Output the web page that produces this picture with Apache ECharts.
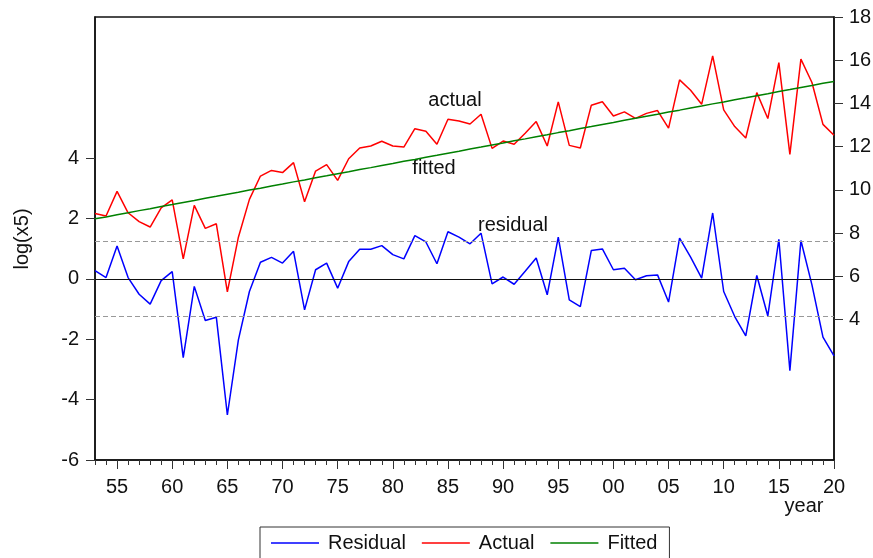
<!DOCTYPE html>
<html>
<head>
<meta charset="utf-8">
<script src="https://cdn.jsdelivr.net/npm/echarts@6/dist/echarts.min.js"></script>
<style>
html,body{margin:0;padding:0;background:#fff;}
#chart{width:873px;height:558px;}
</style>
</head>
<body>
<div id="chart"></div>
<script>
const years = [1953,1954,1955,1956,1957,1958,1959,1960,1961,1962,1963,1964,1965,1966,1967,1968,1969,1970,1971,1972,1973,1974,1975,1976,1977,1978,1979,1980,1981,1982,1983,1984,1985,1986,1987,1988,1989,1990,1991,1992,1993,1994,1995,1996,1997,1998,1999,2000,2001,2002,2003,2004,2005,2006,2007,2008,2009,2010,2011,2012,2013,2014,2015,2016,2017,2018,2019,2020];
const residual = [0.27,0.04,1.09,0.04,-0.51,-0.84,-0.06,0.24,-2.61,-0.25,-1.38,-1.27,-4.51,-2.02,
  -0.42,0.55,0.71,0.52,0.91,-1.03,0.30,0.52,-0.31,0.57,0.98,0.98,1.10,
  0.80,0.66,1.43,1.22,0.50,1.56,1.38,1.16,1.51,-0.17,0.06,-0.18,0.25,0.69,
  -0.53,1.38,-0.70,-0.92,0.94,0.99,0.30,0.35,-0.03,0.10,0.13,-0.77,1.35,
  0.72,0.02,2.18,-0.42,-1.25,-1.89,0.11,-1.23,1.31,-3.04,1.27,-0.20,-1.93,-2.55];
const actual = [8.91,8.79,9.93,8.94,8.53,8.28,9.17,9.54,6.81,9.28,8.22,8.43,5.28,7.81,
  9.56,10.64,10.90,10.80,11.26,9.45,10.87,11.17,10.44,11.44,11.94,12.03,12.25,
  12.03,11.98,12.83,12.71,12.11,13.27,13.19,13.05,13.50,11.92,12.26,12.11,12.62,13.16,
  12.03,14.07,12.06,11.94,13.92,14.08,13.42,13.61,13.31,13.54,13.67,12.86,15.09,
  14.61,13.96,16.20,13.70,12.93,12.40,14.50,13.30,15.89,11.64,16.05,14.97,13.03,12.53];
const fitted = [8.66,8.75,8.85,8.94,9.04,9.13,9.23,9.32,9.42,9.51,9.61,9.70,9.80,9.89,
  9.99,10.08,10.18,10.27,10.37,10.46,10.56,10.65,10.75,10.84,10.94,11.03,11.13,
  11.22,11.32,11.41,11.51,11.60,11.70,11.79,11.89,11.98,12.08,12.17,12.27,12.36,12.46,
  12.55,12.65,12.74,12.84,12.93,13.03,13.12,13.22,13.31,13.41,13.50,13.60,13.69,
  13.79,13.88,13.98,14.07,14.17,14.26,14.36,14.45,14.55,14.64,14.74,14.83,14.93,15.02];
const xMajorTicks = [1955,1960,1965,1970,1975,1980,1985,1990,1995,2000,2005,2010,2015,2020];
const leftTicks = [-6,-4,-2,0,2,4];
const rightTicks = [4,6,8,10,12,14,16,18];
const seBand = 1.24;

const FONT = 'Liberation Sans, Arial, sans-serif';
const pair = (arr) => years.map((y, i) => [y, arr[i]]);

const chart = echarts.init(document.getElementById('chart'));
chart.setOption({
  animation: false,
  backgroundColor: '#fff',
  grid: {left: 95, right: 39, top: 17, bottom: 98, show: true, borderColor: '#111', borderWidth: 1.5, containLabel: false, outerBoundsMode: 'none'},
  xAxis: [{
    type: 'value', min: 1953, max: 2020, position: 'bottom',
    axisLine: {show: true, onZero: false, lineStyle: {color: '#111', width: 1.5}},
    splitLine: {show: false},
    axisTick: {show: true, inside: false, length: 9, customValues: xMajorTicks, lineStyle: {color: '#333'}},
    axisLabel: {customValues: xMajorTicks, margin: 17, color: '#111', fontSize: 20, fontFamily: FONT,
      formatter: v => String(Math.round(v) % 100).padStart(2, '0')}
  }, {
    type: 'value', min: 1953, max: 2020, position: 'bottom',
    axisLine: {show: false, onZero: false}, splitLine: {show: false},
    axisTick: {show: true, inside: false, length: 5, customValues: years, lineStyle: {color: '#333'}},
    axisLabel: {show: false}
  }],
  yAxis: [{
    type: 'value', min: -6, max: 8.67, position: 'left',
    axisLine: {show: true, onZero: false, lineStyle: {color: '#111', width: 1.5}},
    splitLine: {show: false},
    axisTick: {show: true, length: 9, customValues: leftTicks, lineStyle: {color: '#333'}},
    axisLabel: {customValues: leftTicks, margin: 16, color: '#111', fontSize: 20, fontFamily: FONT}
  }, {
    type: 'value', min: -2.5, max: 18, position: 'right',
    axisLine: {show: true, onZero: false, lineStyle: {color: '#111', width: 1.5}},
    splitLine: {show: false},
    axisTick: {show: true, length: 9, customValues: rightTicks, lineStyle: {color: '#333'}},
    axisLabel: {customValues: rightTicks, margin: 15, color: '#111', fontSize: 20, fontFamily: FONT}
  }],
  legend: {
    left: 260, top: 527, orient: 'horizontal',
    data: ['Residual', 'Actual', 'Fitted'],
    icon: 'rect',
    itemWidth: 48, itemHeight: 1.6, itemGap: 16,
    padding: [6, 12, 8, 11],
    borderColor: '#333', borderWidth: 1,
    textStyle: {color: '#111', fontSize: 20, fontFamily: FONT, padding: [0, 0, 0, 4]}
  },
  graphic: [
    {type: 'text', x: 22, y: 239, rotation: Math.PI / 2, style: {text: 'log(x5)', align: 'center', verticalAlign: 'middle', font: '20px ' + FONT, fill: '#111'}},
    {type: 'text', x: 455, y: 100, style: {text: 'actual', align: 'center', verticalAlign: 'middle', font: '20px ' + FONT, fill: '#111'}},
    {type: 'text', x: 434, y: 168, style: {text: 'fitted', align: 'center', verticalAlign: 'middle', font: '20px ' + FONT, fill: '#111'}},
    {type: 'text', x: 513, y: 225, style: {text: 'residual', align: 'center', verticalAlign: 'middle', font: '20px ' + FONT, fill: '#111'}},
    {type: 'text', x: 804, y: 506, style: {text: 'year', align: 'center', verticalAlign: 'middle', font: '20px ' + FONT, fill: '#111'}}
  ],
  series: [{
    name: 'Residual', type: 'line', xAxisIndex: 0, yAxisIndex: 0,
    data: pair(residual), symbol: 'none', lineStyle: {color: '#0000ff', width: 1.5}, itemStyle: {color: '#0000ff'},
    markLine: {
      silent: true, symbol: 'none', label: {show: false}, animation: false,
      data: [
        {yAxis: 0, lineStyle: {color: '#111', type: 'solid', width: 1.2}},
        {yAxis: seBand, lineStyle: {color: '#999', type: [5, 3], width: 1}},
        {yAxis: -seBand, lineStyle: {color: '#999', type: [5, 3], width: 1}}
      ]
    }
  }, {
    name: 'Actual', type: 'line', xAxisIndex: 0, yAxisIndex: 1,
    data: pair(actual), symbol: 'none', lineStyle: {color: '#ff0000', width: 1.5}, itemStyle: {color: '#ff0000'}
  }, {
    name: 'Fitted', type: 'line', xAxisIndex: 0, yAxisIndex: 1,
    data: pair(fitted), symbol: 'none', lineStyle: {color: '#008000', width: 1.5}, itemStyle: {color: '#008000'}
  }]
});
</script>
</body>
</html>
